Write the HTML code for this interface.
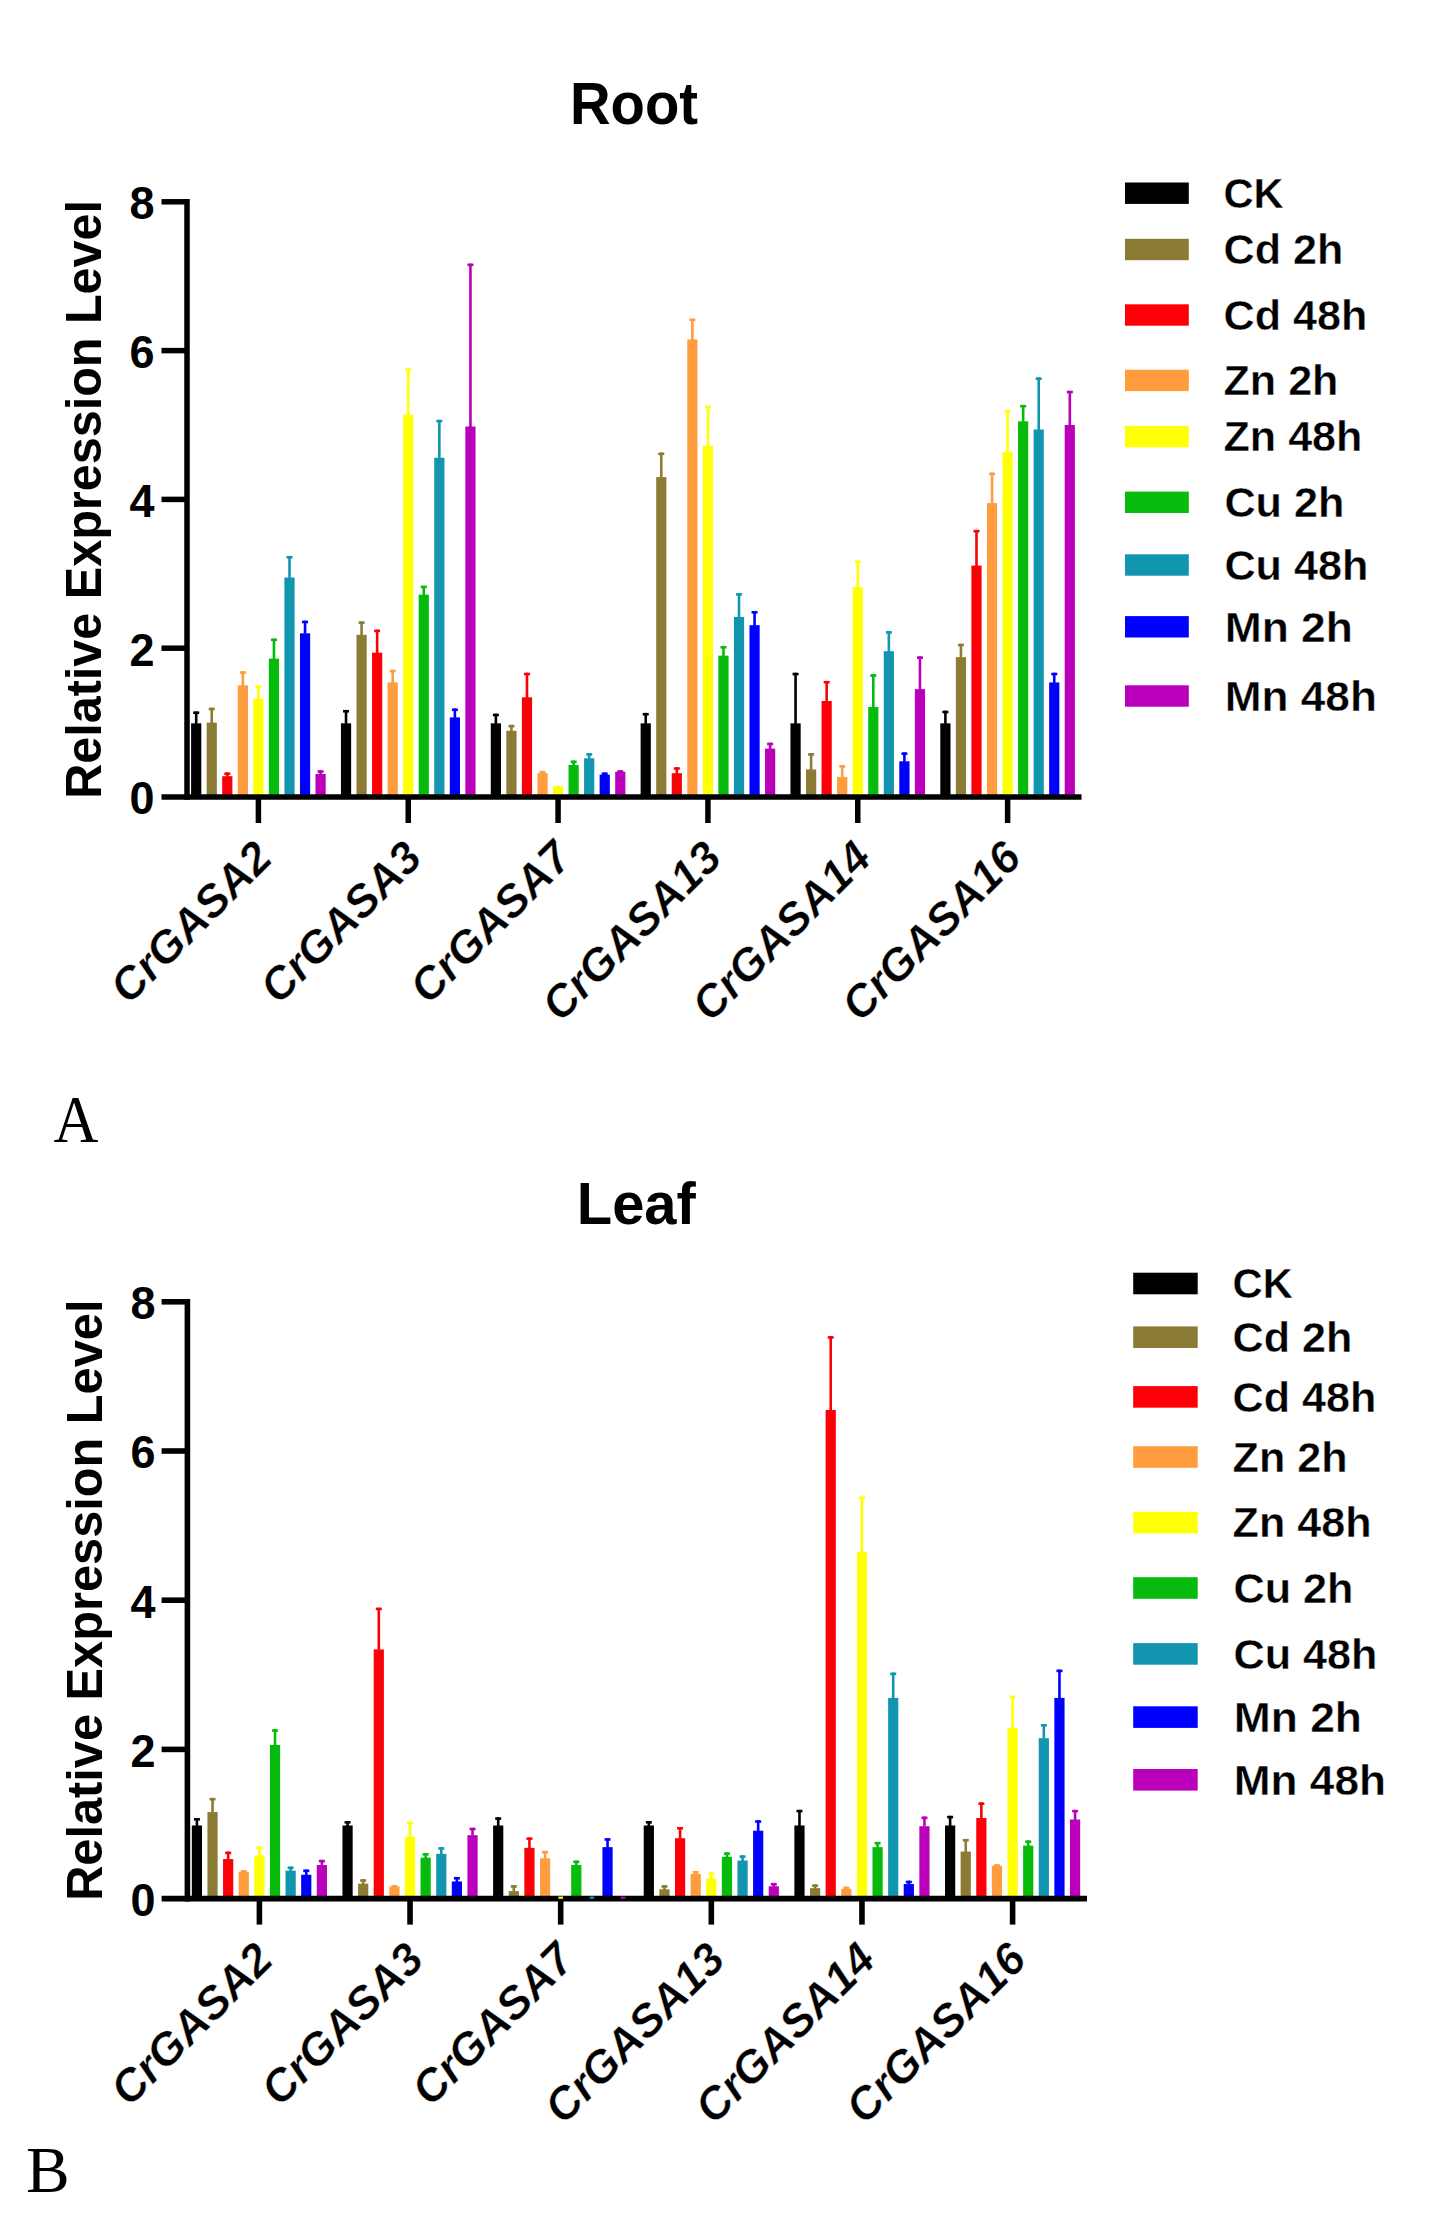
<!DOCTYPE html>
<html lang="en">
<head>
<meta charset="utf-8">
<title>Relative expression level of CrGASA genes in root and leaf</title>
<style>
html,body{margin:0;padding:0;background:#fff;}
body{width:1430px;height:2232px;overflow:hidden;}
svg{display:block;font-family:"Liberation Sans",Arial,Helvetica,sans-serif;fill:#000;}
.panel{font-family:"Liberation Serif","Times New Roman",Times,serif;}
</style>
</head>
<body>
<svg width="1430" height="2232" viewBox="0 0 1430 2232">
<rect x="0" y="0" width="1430" height="2232" fill="#fff"/>
<g id="root-chart">
<rect x="194.9" y="711.44" width="2.6" height="12.4" fill="#000000"/>
<rect x="193.2" y="711.44" width="6" height="2.6" fill="#000000"/>
<rect x="191.1" y="723.34" width="10.2" height="73.66" fill="#000000"/>
<rect x="210.45" y="707.72" width="2.6" height="15.38" fill="#8B7B35"/>
<rect x="208.75" y="707.72" width="6" height="2.6" fill="#8B7B35"/>
<rect x="206.65" y="722.6" width="10.2" height="74.4" fill="#8B7B35"/>
<rect x="226" y="772.45" width="2.6" height="4.22" fill="#FB0007"/>
<rect x="224.3" y="772.45" width="6" height="2.6" fill="#FB0007"/>
<rect x="222.2" y="776.17" width="10.2" height="20.83" fill="#FB0007"/>
<rect x="241.55" y="671.26" width="2.6" height="14.64" fill="#FF9C3D"/>
<rect x="239.85" y="671.26" width="6" height="2.6" fill="#FF9C3D"/>
<rect x="237.75" y="685.4" width="10.2" height="111.6" fill="#FF9C3D"/>
<rect x="257.1" y="685.4" width="2.6" height="13.89" fill="#FFFF05"/>
<rect x="255.4" y="685.4" width="6" height="2.6" fill="#FFFF05"/>
<rect x="253.3" y="698.79" width="10.2" height="98.21" fill="#FFFF05"/>
<rect x="272.65" y="638.53" width="2.6" height="20.59" fill="#06BB0C"/>
<rect x="270.95" y="638.53" width="6" height="2.6" fill="#06BB0C"/>
<rect x="268.85" y="658.62" width="10.2" height="138.38" fill="#06BB0C"/>
<rect x="288.2" y="555.94" width="2.6" height="22.08" fill="#1296B0"/>
<rect x="286.5" y="555.94" width="6" height="2.6" fill="#1296B0"/>
<rect x="284.4" y="577.52" width="10.2" height="219.48" fill="#1296B0"/>
<rect x="303.75" y="620.67" width="2.6" height="13.15" fill="#0000FF"/>
<rect x="302.05" y="620.67" width="6" height="2.6" fill="#0000FF"/>
<rect x="299.95" y="633.32" width="10.2" height="163.68" fill="#0000FF"/>
<rect x="319.3" y="770.22" width="2.6" height="4.22" fill="#BB00BB"/>
<rect x="317.6" y="770.22" width="6" height="2.6" fill="#BB00BB"/>
<rect x="315.5" y="773.94" width="10.2" height="23.06" fill="#BB00BB"/>
<rect x="344.74" y="709.95" width="2.6" height="13.89" fill="#000000"/>
<rect x="343.04" y="709.95" width="6" height="2.6" fill="#000000"/>
<rect x="340.94" y="723.34" width="10.2" height="73.66" fill="#000000"/>
<rect x="360.29" y="621.42" width="2.6" height="13.89" fill="#8B7B35"/>
<rect x="358.59" y="621.42" width="6" height="2.6" fill="#8B7B35"/>
<rect x="356.49" y="634.81" width="10.2" height="162.19" fill="#8B7B35"/>
<rect x="375.84" y="629.6" width="2.6" height="23.56" fill="#FB0007"/>
<rect x="374.14" y="629.6" width="6" height="2.6" fill="#FB0007"/>
<rect x="372.04" y="652.66" width="10.2" height="144.34" fill="#FB0007"/>
<rect x="391.39" y="669.78" width="2.6" height="13.15" fill="#FF9C3D"/>
<rect x="389.69" y="669.78" width="6" height="2.6" fill="#FF9C3D"/>
<rect x="387.59" y="682.42" width="10.2" height="114.58" fill="#FF9C3D"/>
<rect x="406.94" y="368.46" width="2.6" height="46.63" fill="#FFFF05"/>
<rect x="405.24" y="368.46" width="6" height="2.6" fill="#FFFF05"/>
<rect x="403.14" y="414.58" width="10.2" height="382.42" fill="#FFFF05"/>
<rect x="422.49" y="585.7" width="2.6" height="9.43" fill="#06BB0C"/>
<rect x="420.79" y="585.7" width="6" height="2.6" fill="#06BB0C"/>
<rect x="418.69" y="594.63" width="10.2" height="202.37" fill="#06BB0C"/>
<rect x="438.04" y="419.79" width="2.6" height="38.44" fill="#1296B0"/>
<rect x="436.34" y="419.79" width="6" height="2.6" fill="#1296B0"/>
<rect x="434.24" y="457.74" width="10.2" height="339.26" fill="#1296B0"/>
<rect x="453.59" y="708.46" width="2.6" height="9.43" fill="#0000FF"/>
<rect x="451.89" y="708.46" width="6" height="2.6" fill="#0000FF"/>
<rect x="449.79" y="717.39" width="10.2" height="79.61" fill="#0000FF"/>
<rect x="469.14" y="263.55" width="2.6" height="163.44" fill="#BB00BB"/>
<rect x="467.44" y="263.55" width="6" height="2.6" fill="#BB00BB"/>
<rect x="465.34" y="426.49" width="10.2" height="370.51" fill="#BB00BB"/>
<rect x="494.58" y="713.67" width="2.6" height="10.17" fill="#000000"/>
<rect x="492.88" y="713.67" width="6" height="2.6" fill="#000000"/>
<rect x="490.78" y="723.34" width="10.2" height="73.66" fill="#000000"/>
<rect x="510.13" y="724.83" width="2.6" height="6.45" fill="#8B7B35"/>
<rect x="508.43" y="724.83" width="6" height="2.6" fill="#8B7B35"/>
<rect x="506.33" y="730.78" width="10.2" height="66.22" fill="#8B7B35"/>
<rect x="525.68" y="672.75" width="2.6" height="25.05" fill="#FB0007"/>
<rect x="523.98" y="672.75" width="6" height="2.6" fill="#FB0007"/>
<rect x="521.88" y="697.3" width="10.2" height="99.7" fill="#FB0007"/>
<rect x="541.23" y="770.96" width="2.6" height="2.73" fill="#FF9C3D"/>
<rect x="539.53" y="770.96" width="6" height="2.6" fill="#FF9C3D"/>
<rect x="537.43" y="773.19" width="10.2" height="23.81" fill="#FF9C3D"/>
<rect x="556.78" y="785.84" width="2.6" height="1.24" fill="#FFFF05"/>
<rect x="555.08" y="785.84" width="6" height="2.6" fill="#FFFF05"/>
<rect x="552.98" y="786.58" width="10.2" height="10.42" fill="#FFFF05"/>
<rect x="572.33" y="760.54" width="2.6" height="4.96" fill="#06BB0C"/>
<rect x="570.63" y="760.54" width="6" height="2.6" fill="#06BB0C"/>
<rect x="568.53" y="765.01" width="10.2" height="31.99" fill="#06BB0C"/>
<rect x="587.88" y="753.1" width="2.6" height="5.71" fill="#1296B0"/>
<rect x="586.18" y="753.1" width="6" height="2.6" fill="#1296B0"/>
<rect x="584.08" y="758.31" width="10.2" height="38.69" fill="#1296B0"/>
<rect x="603.43" y="772.45" width="2.6" height="2.73" fill="#0000FF"/>
<rect x="601.73" y="772.45" width="6" height="2.6" fill="#0000FF"/>
<rect x="599.63" y="774.68" width="10.2" height="22.32" fill="#0000FF"/>
<rect x="618.98" y="770.22" width="2.6" height="1.99" fill="#BB00BB"/>
<rect x="617.28" y="770.22" width="6" height="2.6" fill="#BB00BB"/>
<rect x="615.18" y="771.7" width="10.2" height="25.3" fill="#BB00BB"/>
<rect x="644.42" y="712.93" width="2.6" height="10.92" fill="#000000"/>
<rect x="642.72" y="712.93" width="6" height="2.6" fill="#000000"/>
<rect x="640.62" y="723.34" width="10.2" height="73.66" fill="#000000"/>
<rect x="659.97" y="452.53" width="2.6" height="25.05" fill="#8B7B35"/>
<rect x="658.27" y="452.53" width="6" height="2.6" fill="#8B7B35"/>
<rect x="656.17" y="477.08" width="10.2" height="319.92" fill="#8B7B35"/>
<rect x="675.52" y="767.24" width="2.6" height="6.45" fill="#FB0007"/>
<rect x="673.82" y="767.24" width="6" height="2.6" fill="#FB0007"/>
<rect x="671.72" y="773.19" width="10.2" height="23.81" fill="#FB0007"/>
<rect x="691.07" y="318.61" width="2.6" height="21.33" fill="#FF9C3D"/>
<rect x="689.37" y="318.61" width="6" height="2.6" fill="#FF9C3D"/>
<rect x="687.27" y="339.44" width="10.2" height="457.56" fill="#FF9C3D"/>
<rect x="706.62" y="405.66" width="2.6" height="40.68" fill="#FFFF05"/>
<rect x="704.92" y="405.66" width="6" height="2.6" fill="#FFFF05"/>
<rect x="702.82" y="445.83" width="10.2" height="351.17" fill="#FFFF05"/>
<rect x="722.17" y="645.97" width="2.6" height="10.17" fill="#06BB0C"/>
<rect x="720.47" y="645.97" width="6" height="2.6" fill="#06BB0C"/>
<rect x="718.37" y="655.64" width="10.2" height="141.36" fill="#06BB0C"/>
<rect x="737.72" y="593.14" width="2.6" height="24.31" fill="#1296B0"/>
<rect x="736.02" y="593.14" width="6" height="2.6" fill="#1296B0"/>
<rect x="733.92" y="616.95" width="10.2" height="180.05" fill="#1296B0"/>
<rect x="753.27" y="611" width="2.6" height="14.64" fill="#0000FF"/>
<rect x="751.57" y="611" width="6" height="2.6" fill="#0000FF"/>
<rect x="749.47" y="625.14" width="10.2" height="171.86" fill="#0000FF"/>
<rect x="768.82" y="742.69" width="2.6" height="6.45" fill="#BB00BB"/>
<rect x="767.12" y="742.69" width="6" height="2.6" fill="#BB00BB"/>
<rect x="765.02" y="748.64" width="10.2" height="48.36" fill="#BB00BB"/>
<rect x="794.26" y="672.75" width="2.6" height="51.09" fill="#000000"/>
<rect x="792.56" y="672.75" width="6" height="2.6" fill="#000000"/>
<rect x="790.46" y="723.34" width="10.2" height="73.66" fill="#000000"/>
<rect x="809.81" y="753.1" width="2.6" height="16.87" fill="#8B7B35"/>
<rect x="808.11" y="753.1" width="6" height="2.6" fill="#8B7B35"/>
<rect x="806.01" y="769.47" width="10.2" height="27.53" fill="#8B7B35"/>
<rect x="825.36" y="680.94" width="2.6" height="20.59" fill="#FB0007"/>
<rect x="823.66" y="680.94" width="6" height="2.6" fill="#FB0007"/>
<rect x="821.56" y="701.02" width="10.2" height="95.98" fill="#FB0007"/>
<rect x="840.91" y="765.01" width="2.6" height="12.4" fill="#FF9C3D"/>
<rect x="839.21" y="765.01" width="6" height="2.6" fill="#FF9C3D"/>
<rect x="837.11" y="776.91" width="10.2" height="20.09" fill="#FF9C3D"/>
<rect x="856.46" y="560.41" width="2.6" height="27.28" fill="#FFFF05"/>
<rect x="854.76" y="560.41" width="6" height="2.6" fill="#FFFF05"/>
<rect x="852.66" y="587.19" width="10.2" height="209.81" fill="#FFFF05"/>
<rect x="872.01" y="674.24" width="2.6" height="33.24" fill="#06BB0C"/>
<rect x="870.31" y="674.24" width="6" height="2.6" fill="#06BB0C"/>
<rect x="868.21" y="706.98" width="10.2" height="90.02" fill="#06BB0C"/>
<rect x="887.56" y="631.09" width="2.6" height="20.59" fill="#1296B0"/>
<rect x="885.86" y="631.09" width="6" height="2.6" fill="#1296B0"/>
<rect x="883.76" y="651.18" width="10.2" height="145.82" fill="#1296B0"/>
<rect x="903.11" y="752.36" width="2.6" height="9.43" fill="#0000FF"/>
<rect x="901.41" y="752.36" width="6" height="2.6" fill="#0000FF"/>
<rect x="899.31" y="761.29" width="10.2" height="35.71" fill="#0000FF"/>
<rect x="918.66" y="656.38" width="2.6" height="33.24" fill="#BB00BB"/>
<rect x="916.96" y="656.38" width="6" height="2.6" fill="#BB00BB"/>
<rect x="914.86" y="689.12" width="10.2" height="107.88" fill="#BB00BB"/>
<rect x="944.1" y="710.7" width="2.6" height="13.15" fill="#000000"/>
<rect x="942.4" y="710.7" width="6" height="2.6" fill="#000000"/>
<rect x="940.3" y="723.34" width="10.2" height="73.66" fill="#000000"/>
<rect x="959.65" y="643.74" width="2.6" height="13.89" fill="#8B7B35"/>
<rect x="957.95" y="643.74" width="6" height="2.6" fill="#8B7B35"/>
<rect x="955.85" y="657.13" width="10.2" height="139.87" fill="#8B7B35"/>
<rect x="975.2" y="529.9" width="2.6" height="36.21" fill="#FB0007"/>
<rect x="973.5" y="529.9" width="6" height="2.6" fill="#FB0007"/>
<rect x="971.4" y="565.62" width="10.2" height="231.38" fill="#FB0007"/>
<rect x="990.75" y="472.62" width="2.6" height="31" fill="#FF9C3D"/>
<rect x="989.05" y="472.62" width="6" height="2.6" fill="#FF9C3D"/>
<rect x="986.95" y="503.12" width="10.2" height="293.88" fill="#FF9C3D"/>
<rect x="1006.3" y="410.12" width="2.6" height="42.16" fill="#FFFF05"/>
<rect x="1004.6" y="410.12" width="6" height="2.6" fill="#FFFF05"/>
<rect x="1002.5" y="451.78" width="10.2" height="345.22" fill="#FFFF05"/>
<rect x="1021.85" y="404.91" width="2.6" height="16.87" fill="#06BB0C"/>
<rect x="1020.15" y="404.91" width="6" height="2.6" fill="#06BB0C"/>
<rect x="1018.05" y="421.28" width="10.2" height="375.72" fill="#06BB0C"/>
<rect x="1037.4" y="377.38" width="2.6" height="52.58" fill="#1296B0"/>
<rect x="1035.7" y="377.38" width="6" height="2.6" fill="#1296B0"/>
<rect x="1033.6" y="429.46" width="10.2" height="367.54" fill="#1296B0"/>
<rect x="1052.95" y="672.75" width="2.6" height="10.17" fill="#0000FF"/>
<rect x="1051.25" y="672.75" width="6" height="2.6" fill="#0000FF"/>
<rect x="1049.15" y="682.42" width="10.2" height="114.58" fill="#0000FF"/>
<rect x="1068.5" y="390.78" width="2.6" height="34.72" fill="#BB00BB"/>
<rect x="1066.8" y="390.78" width="6" height="2.6" fill="#BB00BB"/>
<rect x="1064.7" y="425" width="10.2" height="372" fill="#BB00BB"/>
<g stroke="#000" stroke-width="5.5" fill="none">
<line x1="187" y1="199.05" x2="187" y2="799.75"/>
<line x1="161.5" y1="797" x2="1081.5" y2="797"/>
<line x1="161.5" y1="648.2" x2="187" y2="648.2"/>
<line x1="161.5" y1="499.4" x2="187" y2="499.4"/>
<line x1="161.5" y1="350.6" x2="187" y2="350.6"/>
<line x1="161.5" y1="201.8" x2="187" y2="201.8"/>
<line x1="258.4" y1="797" x2="258.4" y2="823"/>
<line x1="408.24" y1="797" x2="408.24" y2="823"/>
<line x1="558.08" y1="797" x2="558.08" y2="823"/>
<line x1="707.92" y1="797" x2="707.92" y2="823"/>
<line x1="857.76" y1="797" x2="857.76" y2="823"/>
<line x1="1007.6" y1="797" x2="1007.6" y2="823"/>
</g>
<g font-weight="700" font-size="45" text-anchor="end">
<text transform="translate(154.5 814.3) scale(1 1.04)">0</text>
<text transform="translate(154.5 665.5) scale(1 1.04)">2</text>
<text transform="translate(154.5 516.7) scale(1 1.04)">4</text>
<text transform="translate(154.5 367.9) scale(1 1.04)">6</text>
<text transform="translate(154.5 219.1) scale(1 1.04)">8</text>
</g>
<text transform="translate(101.3 499.4) rotate(-90) scale(0.973 1)" font-size="49.9" text-anchor="middle" font-weight="700">Relative Expression Level</text>
<text transform="translate(634 124.3) scale(0.962 1)" font-size="58.5" text-anchor="middle" font-weight="700">Root</text>
<g font-weight="700" font-style="italic" font-size="45.2" text-anchor="end" stroke="#fff" stroke-width="0.45">
<text transform="translate(274.4 860.2) rotate(-45)">CrGASA2</text>
<text transform="translate(424.24 860.2) rotate(-45)">CrGASA3</text>
<text transform="translate(574.08 860.2) rotate(-45)">CrGASA7</text>
<text transform="translate(723.92 860.2) rotate(-45)">CrGASA13</text>
<text transform="translate(873.76 860.2) rotate(-45)">CrGASA14</text>
<text transform="translate(1023.6 860.2) rotate(-45)">CrGASA16</text>
</g>
<g font-weight="700" font-size="41.7" stroke="#fff" stroke-width="0.4">
<rect x="1125" y="182.5" width="63.8" height="21.4" fill="#000000" stroke="none"/>
<text transform="translate(1223.5 207.9)">CK</text>
<rect x="1125" y="238.8" width="63.8" height="21.4" fill="#8B7B35" stroke="none"/>
<text transform="translate(1223.5 264.2) scale(1.034 1)">Cd 2h</text>
<rect x="1125" y="304.3" width="63.8" height="21.4" fill="#FB0007" stroke="none"/>
<text transform="translate(1223.5 329.7) scale(1.034 1)">Cd 48h</text>
<rect x="1125" y="369.7" width="63.8" height="21.4" fill="#FF9C3D" stroke="none"/>
<text transform="translate(1223.5 395.1) scale(1.034 1)">Zn 2h</text>
<rect x="1125" y="425.9" width="63.8" height="21.4" fill="#FFFF05" stroke="none"/>
<text transform="translate(1223.5 451.3) scale(1.034 1)">Zn 48h</text>
<rect x="1125" y="491.6" width="63.8" height="21.4" fill="#06BB0C" stroke="none"/>
<text transform="translate(1224.4 517) scale(1.036 1)">Cu 2h</text>
<rect x="1125" y="554.3" width="63.8" height="21.4" fill="#1296B0" stroke="none"/>
<text transform="translate(1224.4 579.7) scale(1.036 1)">Cu 48h</text>
<rect x="1125" y="616.1" width="63.8" height="21.4" fill="#0000FF" stroke="none"/>
<text transform="translate(1224.7 641.5) scale(1.064 1)">Mn 2h</text>
<rect x="1125" y="685.3" width="63.8" height="21.4" fill="#BB00BB" stroke="none"/>
<text transform="translate(1224.7 710.7) scale(1.06 1)">Mn 48h</text>
</g>
</g>
<text class="panel" font-size="65.5" transform="translate(53.4 1142) scale(0.95 1.03)">A</text>
<g id="leaf-chart">
<rect x="195.62" y="1818.03" width="2.6" height="7.96" fill="#000000"/>
<rect x="193.92" y="1818.03" width="6" height="2.6" fill="#000000"/>
<rect x="191.82" y="1825.49" width="10.2" height="73.11" fill="#000000"/>
<rect x="211.24" y="1797.89" width="2.6" height="14.67" fill="#8B7B35"/>
<rect x="209.54" y="1797.89" width="6" height="2.6" fill="#8B7B35"/>
<rect x="207.44" y="1812.06" width="10.2" height="86.54" fill="#8B7B35"/>
<rect x="226.86" y="1851.6" width="2.6" height="7.96" fill="#FB0007"/>
<rect x="225.16" y="1851.6" width="6" height="2.6" fill="#FB0007"/>
<rect x="223.06" y="1859.06" width="10.2" height="39.54" fill="#FB0007"/>
<rect x="242.48" y="1870.25" width="2.6" height="1.99" fill="#FF9C3D"/>
<rect x="240.78" y="1870.25" width="6" height="2.6" fill="#FF9C3D"/>
<rect x="238.68" y="1871.74" width="10.2" height="26.86" fill="#FF9C3D"/>
<rect x="258.1" y="1846.38" width="2.6" height="9.45" fill="#FFFF05"/>
<rect x="256.4" y="1846.38" width="6" height="2.6" fill="#FFFF05"/>
<rect x="254.3" y="1855.33" width="10.2" height="43.27" fill="#FFFF05"/>
<rect x="273.72" y="1729.26" width="2.6" height="16.17" fill="#06BB0C"/>
<rect x="272.02" y="1729.26" width="6" height="2.6" fill="#06BB0C"/>
<rect x="269.92" y="1744.92" width="10.2" height="153.68" fill="#06BB0C"/>
<rect x="289.34" y="1866.52" width="2.6" height="4.6" fill="#1296B0"/>
<rect x="287.64" y="1866.52" width="6" height="2.6" fill="#1296B0"/>
<rect x="285.54" y="1870.62" width="10.2" height="27.97" fill="#1296B0"/>
<rect x="304.96" y="1869.51" width="2.6" height="5.72" fill="#0000FF"/>
<rect x="303.26" y="1869.51" width="6" height="2.6" fill="#0000FF"/>
<rect x="301.16" y="1874.73" width="10.2" height="23.87" fill="#0000FF"/>
<rect x="320.58" y="1859.81" width="2.6" height="5.72" fill="#BB00BB"/>
<rect x="318.88" y="1859.81" width="6" height="2.6" fill="#BB00BB"/>
<rect x="316.78" y="1865.03" width="10.2" height="33.57" fill="#BB00BB"/>
<rect x="346.26" y="1821.02" width="2.6" height="4.98" fill="#000000"/>
<rect x="344.56" y="1821.02" width="6" height="2.6" fill="#000000"/>
<rect x="342.46" y="1825.49" width="10.2" height="73.11" fill="#000000"/>
<rect x="361.88" y="1879.2" width="2.6" height="4.98" fill="#8B7B35"/>
<rect x="360.18" y="1879.2" width="6" height="2.6" fill="#8B7B35"/>
<rect x="358.08" y="1883.68" width="10.2" height="14.92" fill="#8B7B35"/>
<rect x="377.5" y="1607.66" width="2.6" height="42.28" fill="#FB0007"/>
<rect x="375.8" y="1607.66" width="6" height="2.6" fill="#FB0007"/>
<rect x="373.7" y="1649.44" width="10.2" height="249.16" fill="#FB0007"/>
<rect x="393.12" y="1885.17" width="2.6" height="1.99" fill="#FF9C3D"/>
<rect x="391.42" y="1885.17" width="6" height="2.6" fill="#FF9C3D"/>
<rect x="389.32" y="1886.66" width="10.2" height="11.94" fill="#FF9C3D"/>
<rect x="408.74" y="1821.76" width="2.6" height="15.42" fill="#FFFF05"/>
<rect x="407.04" y="1821.76" width="6" height="2.6" fill="#FFFF05"/>
<rect x="404.94" y="1836.68" width="10.2" height="61.92" fill="#FFFF05"/>
<rect x="424.36" y="1853.09" width="2.6" height="4.98" fill="#06BB0C"/>
<rect x="422.66" y="1853.09" width="6" height="2.6" fill="#06BB0C"/>
<rect x="420.56" y="1857.57" width="10.2" height="41.03" fill="#06BB0C"/>
<rect x="439.98" y="1847.13" width="2.6" height="7.21" fill="#1296B0"/>
<rect x="438.28" y="1847.13" width="6" height="2.6" fill="#1296B0"/>
<rect x="436.18" y="1853.84" width="10.2" height="44.76" fill="#1296B0"/>
<rect x="455.6" y="1876.97" width="2.6" height="4.98" fill="#0000FF"/>
<rect x="453.9" y="1876.97" width="6" height="2.6" fill="#0000FF"/>
<rect x="451.8" y="1881.44" width="10.2" height="17.16" fill="#0000FF"/>
<rect x="471.22" y="1827.73" width="2.6" height="7.96" fill="#BB00BB"/>
<rect x="469.52" y="1827.73" width="6" height="2.6" fill="#BB00BB"/>
<rect x="467.42" y="1835.19" width="10.2" height="63.41" fill="#BB00BB"/>
<rect x="496.9" y="1817.29" width="2.6" height="8.71" fill="#000000"/>
<rect x="495.2" y="1817.29" width="6" height="2.6" fill="#000000"/>
<rect x="493.1" y="1825.49" width="10.2" height="73.11" fill="#000000"/>
<rect x="512.52" y="1885.17" width="2.6" height="6.47" fill="#8B7B35"/>
<rect x="510.82" y="1885.17" width="6" height="2.6" fill="#8B7B35"/>
<rect x="508.72" y="1891.14" width="10.2" height="7.46" fill="#8B7B35"/>
<rect x="528.14" y="1837.43" width="2.6" height="10.94" fill="#FB0007"/>
<rect x="526.44" y="1837.43" width="6" height="2.6" fill="#FB0007"/>
<rect x="524.34" y="1847.87" width="10.2" height="50.73" fill="#FB0007"/>
<rect x="543.76" y="1850.86" width="2.6" height="7.96" fill="#FF9C3D"/>
<rect x="542.06" y="1850.86" width="6" height="2.6" fill="#FF9C3D"/>
<rect x="539.96" y="1858.32" width="10.2" height="40.28" fill="#FF9C3D"/>
<rect x="555.58" y="1897.85" width="10.2" height="0.75" fill="#FFFF05"/>
<rect x="575" y="1860.55" width="2.6" height="4.98" fill="#06BB0C"/>
<rect x="573.3" y="1860.55" width="6" height="2.6" fill="#06BB0C"/>
<rect x="571.2" y="1865.03" width="10.2" height="33.57" fill="#06BB0C"/>
<rect x="586.82" y="1897.85" width="10.2" height="0.75" fill="#1296B0"/>
<rect x="606.24" y="1838.17" width="2.6" height="9.45" fill="#0000FF"/>
<rect x="604.54" y="1838.17" width="6" height="2.6" fill="#0000FF"/>
<rect x="602.44" y="1847.13" width="10.2" height="51.47" fill="#0000FF"/>
<rect x="618.06" y="1897.85" width="10.2" height="0.75" fill="#BB00BB"/>
<rect x="647.54" y="1821.02" width="2.6" height="4.98" fill="#000000"/>
<rect x="645.84" y="1821.02" width="6" height="2.6" fill="#000000"/>
<rect x="643.74" y="1825.49" width="10.2" height="73.11" fill="#000000"/>
<rect x="663.16" y="1885.17" width="2.6" height="4.6" fill="#8B7B35"/>
<rect x="661.46" y="1885.17" width="6" height="2.6" fill="#8B7B35"/>
<rect x="659.36" y="1889.27" width="10.2" height="9.33" fill="#8B7B35"/>
<rect x="678.78" y="1826.98" width="2.6" height="11.69" fill="#FB0007"/>
<rect x="677.08" y="1826.98" width="6" height="2.6" fill="#FB0007"/>
<rect x="674.98" y="1838.17" width="10.2" height="60.43" fill="#FB0007"/>
<rect x="694.4" y="1871" width="2.6" height="3.48" fill="#FF9C3D"/>
<rect x="692.7" y="1871" width="6" height="2.6" fill="#FF9C3D"/>
<rect x="690.6" y="1873.98" width="10.2" height="24.62" fill="#FF9C3D"/>
<rect x="710.02" y="1872.49" width="2.6" height="6.47" fill="#FFFF05"/>
<rect x="708.32" y="1872.49" width="6" height="2.6" fill="#FFFF05"/>
<rect x="706.22" y="1878.46" width="10.2" height="20.14" fill="#FFFF05"/>
<rect x="725.64" y="1852.35" width="2.6" height="4.98" fill="#06BB0C"/>
<rect x="723.94" y="1852.35" width="6" height="2.6" fill="#06BB0C"/>
<rect x="721.84" y="1856.82" width="10.2" height="41.78" fill="#06BB0C"/>
<rect x="741.26" y="1855.33" width="2.6" height="5.72" fill="#1296B0"/>
<rect x="739.56" y="1855.33" width="6" height="2.6" fill="#1296B0"/>
<rect x="737.46" y="1860.55" width="10.2" height="38.05" fill="#1296B0"/>
<rect x="756.88" y="1820.27" width="2.6" height="10.94" fill="#0000FF"/>
<rect x="755.18" y="1820.27" width="6" height="2.6" fill="#0000FF"/>
<rect x="753.08" y="1830.71" width="10.2" height="67.89" fill="#0000FF"/>
<rect x="772.5" y="1882.93" width="2.6" height="3.86" fill="#BB00BB"/>
<rect x="770.8" y="1882.93" width="6" height="2.6" fill="#BB00BB"/>
<rect x="768.7" y="1886.29" width="10.2" height="12.31" fill="#BB00BB"/>
<rect x="798.18" y="1809.83" width="2.6" height="16.17" fill="#000000"/>
<rect x="796.48" y="1809.83" width="6" height="2.6" fill="#000000"/>
<rect x="794.38" y="1825.49" width="10.2" height="73.11" fill="#000000"/>
<rect x="813.8" y="1884.43" width="2.6" height="4.23" fill="#8B7B35"/>
<rect x="812.1" y="1884.43" width="6" height="2.6" fill="#8B7B35"/>
<rect x="810" y="1888.16" width="10.2" height="10.44" fill="#8B7B35"/>
<rect x="829.42" y="1336.12" width="2.6" height="74.35" fill="#FB0007"/>
<rect x="827.72" y="1336.12" width="6" height="2.6" fill="#FB0007"/>
<rect x="825.62" y="1409.97" width="10.2" height="488.63" fill="#FB0007"/>
<rect x="845.04" y="1886.66" width="2.6" height="2.74" fill="#FF9C3D"/>
<rect x="843.34" y="1886.66" width="6" height="2.6" fill="#FF9C3D"/>
<rect x="841.24" y="1888.9" width="10.2" height="9.7" fill="#FF9C3D"/>
<rect x="860.66" y="1496.51" width="2.6" height="55.7" fill="#FFFF05"/>
<rect x="858.96" y="1496.51" width="6" height="2.6" fill="#FFFF05"/>
<rect x="856.86" y="1551.71" width="10.2" height="346.89" fill="#FFFF05"/>
<rect x="876.28" y="1841.9" width="2.6" height="5.72" fill="#06BB0C"/>
<rect x="874.58" y="1841.9" width="6" height="2.6" fill="#06BB0C"/>
<rect x="872.48" y="1847.13" width="10.2" height="51.47" fill="#06BB0C"/>
<rect x="891.9" y="1672.56" width="2.6" height="25.86" fill="#1296B0"/>
<rect x="890.2" y="1672.56" width="6" height="2.6" fill="#1296B0"/>
<rect x="888.1" y="1697.93" width="10.2" height="200.67" fill="#1296B0"/>
<rect x="907.52" y="1880.7" width="2.6" height="3.86" fill="#0000FF"/>
<rect x="905.82" y="1880.7" width="6" height="2.6" fill="#0000FF"/>
<rect x="903.72" y="1884.05" width="10.2" height="14.55" fill="#0000FF"/>
<rect x="923.14" y="1816.54" width="2.6" height="10.2" fill="#BB00BB"/>
<rect x="921.44" y="1816.54" width="6" height="2.6" fill="#BB00BB"/>
<rect x="919.34" y="1826.24" width="10.2" height="72.36" fill="#BB00BB"/>
<rect x="948.82" y="1815.79" width="2.6" height="10.2" fill="#000000"/>
<rect x="947.12" y="1815.79" width="6" height="2.6" fill="#000000"/>
<rect x="945.02" y="1825.49" width="10.2" height="73.11" fill="#000000"/>
<rect x="964.44" y="1838.92" width="2.6" height="13.18" fill="#8B7B35"/>
<rect x="962.74" y="1838.92" width="6" height="2.6" fill="#8B7B35"/>
<rect x="960.64" y="1851.6" width="10.2" height="47" fill="#8B7B35"/>
<rect x="980.06" y="1802.37" width="2.6" height="16.17" fill="#FB0007"/>
<rect x="978.36" y="1802.37" width="6" height="2.6" fill="#FB0007"/>
<rect x="976.26" y="1818.03" width="10.2" height="80.57" fill="#FB0007"/>
<rect x="995.68" y="1864.28" width="2.6" height="1.99" fill="#FF9C3D"/>
<rect x="993.98" y="1864.28" width="6" height="2.6" fill="#FF9C3D"/>
<rect x="991.88" y="1865.78" width="10.2" height="32.82" fill="#FF9C3D"/>
<rect x="1011.3" y="1695.69" width="2.6" height="32.58" fill="#FFFF05"/>
<rect x="1009.6" y="1695.69" width="6" height="2.6" fill="#FFFF05"/>
<rect x="1007.5" y="1727.77" width="10.2" height="170.83" fill="#FFFF05"/>
<rect x="1026.92" y="1840.41" width="2.6" height="5.72" fill="#06BB0C"/>
<rect x="1025.22" y="1840.41" width="6" height="2.6" fill="#06BB0C"/>
<rect x="1023.12" y="1845.63" width="10.2" height="52.97" fill="#06BB0C"/>
<rect x="1042.54" y="1724.04" width="2.6" height="14.67" fill="#1296B0"/>
<rect x="1040.84" y="1724.04" width="6" height="2.6" fill="#1296B0"/>
<rect x="1038.74" y="1738.21" width="10.2" height="160.39" fill="#1296B0"/>
<rect x="1058.16" y="1669.58" width="2.6" height="28.85" fill="#0000FF"/>
<rect x="1056.46" y="1669.58" width="6" height="2.6" fill="#0000FF"/>
<rect x="1054.36" y="1697.93" width="10.2" height="200.67" fill="#0000FF"/>
<rect x="1073.78" y="1809.83" width="2.6" height="10.2" fill="#BB00BB"/>
<rect x="1072.08" y="1809.83" width="6" height="2.6" fill="#BB00BB"/>
<rect x="1069.98" y="1819.52" width="10.2" height="79.08" fill="#BB00BB"/>
<g stroke="#000" stroke-width="5.6" fill="none">
<line x1="187.4" y1="1299" x2="187.4" y2="1901.4"/>
<line x1="161.6" y1="1898.6" x2="1087" y2="1898.6"/>
<line x1="161.6" y1="1749.4" x2="187.4" y2="1749.4"/>
<line x1="161.6" y1="1600.2" x2="187.4" y2="1600.2"/>
<line x1="161.6" y1="1451" x2="187.4" y2="1451"/>
<line x1="161.6" y1="1301.8" x2="187.4" y2="1301.8"/>
<line x1="259.4" y1="1898.6" x2="259.4" y2="1924.6"/>
<line x1="410.04" y1="1898.6" x2="410.04" y2="1924.6"/>
<line x1="560.68" y1="1898.6" x2="560.68" y2="1924.6"/>
<line x1="711.32" y1="1898.6" x2="711.32" y2="1924.6"/>
<line x1="861.96" y1="1898.6" x2="861.96" y2="1924.6"/>
<line x1="1012.6" y1="1898.6" x2="1012.6" y2="1924.6"/>
</g>
<rect x="558.38" y="1896.6" width="4.6" height="2.2" fill="#FFFF05"/>
<rect x="589.62" y="1896.6" width="4.6" height="2.2" fill="#1296B0"/>
<rect x="620.86" y="1896.6" width="4.6" height="2.2" fill="#BB00BB"/>
<g font-weight="700" font-size="45" text-anchor="end">
<text transform="translate(155.6 1915.9) scale(1 1.04)">0</text>
<text transform="translate(155.6 1766.7) scale(1 1.04)">2</text>
<text transform="translate(155.6 1617.5) scale(1 1.04)">4</text>
<text transform="translate(155.6 1468.3) scale(1 1.04)">6</text>
<text transform="translate(155.6 1319.1) scale(1 1.04)">8</text>
</g>
<text transform="translate(101.8 1600.2) rotate(-90) scale(0.975 1)" font-size="50" text-anchor="middle" font-weight="700">Relative Expression Level</text>
<text transform="translate(636.3 1224.3) scale(0.99 1)" font-size="58.5" text-anchor="middle" font-weight="700">Leaf</text>
<g font-weight="700" font-style="italic" font-size="45.4" text-anchor="end" stroke="#fff" stroke-width="0.45">
<text transform="translate(275.4 1961.8) rotate(-45)">CrGASA2</text>
<text transform="translate(426.04 1961.8) rotate(-45)">CrGASA3</text>
<text transform="translate(576.68 1961.8) rotate(-45)">CrGASA7</text>
<text transform="translate(727.32 1961.8) rotate(-45)">CrGASA13</text>
<text transform="translate(877.96 1961.8) rotate(-45)">CrGASA14</text>
<text transform="translate(1028.6 1961.8) rotate(-45)">CrGASA16</text>
</g>
<g font-weight="700" font-size="41.7" stroke="#fff" stroke-width="0.4">
<rect x="1133.2" y="1272.7" width="64.5" height="21.6" fill="#000000" stroke="none"/>
<text transform="translate(1232.6 1298.2)">CK</text>
<rect x="1133.2" y="1326.4" width="64.5" height="21.6" fill="#8B7B35" stroke="none"/>
<text transform="translate(1232.6 1351.9) scale(1.034 1)">Cd 2h</text>
<rect x="1133.2" y="1386.1" width="64.5" height="21.6" fill="#FB0007" stroke="none"/>
<text transform="translate(1232.6 1411.6) scale(1.034 1)">Cd 48h</text>
<rect x="1133.2" y="1446.2" width="64.5" height="21.6" fill="#FF9C3D" stroke="none"/>
<text transform="translate(1232.6 1471.7) scale(1.034 1)">Zn 2h</text>
<rect x="1133.2" y="1511.8" width="64.5" height="21.6" fill="#FFFF05" stroke="none"/>
<text transform="translate(1232.6 1537.3) scale(1.034 1)">Zn 48h</text>
<rect x="1133.2" y="1577.2" width="64.5" height="21.6" fill="#06BB0C" stroke="none"/>
<text transform="translate(1233.5 1602.7) scale(1.036 1)">Cu 2h</text>
<rect x="1133.2" y="1643.1" width="64.5" height="21.6" fill="#1296B0" stroke="none"/>
<text transform="translate(1233.5 1668.6) scale(1.036 1)">Cu 48h</text>
<rect x="1133.2" y="1706.3" width="64.5" height="21.6" fill="#0000FF" stroke="none"/>
<text transform="translate(1233.8 1731.8) scale(1.064 1)">Mn 2h</text>
<rect x="1133.2" y="1769" width="64.5" height="21.6" fill="#BB00BB" stroke="none"/>
<text transform="translate(1233.8 1794.5) scale(1.06 1)">Mn 48h</text>
</g>
</g>
<text class="panel" font-size="65.5" x="26.1" y="2191.7">B</text>
</svg>
</body>
</html>
